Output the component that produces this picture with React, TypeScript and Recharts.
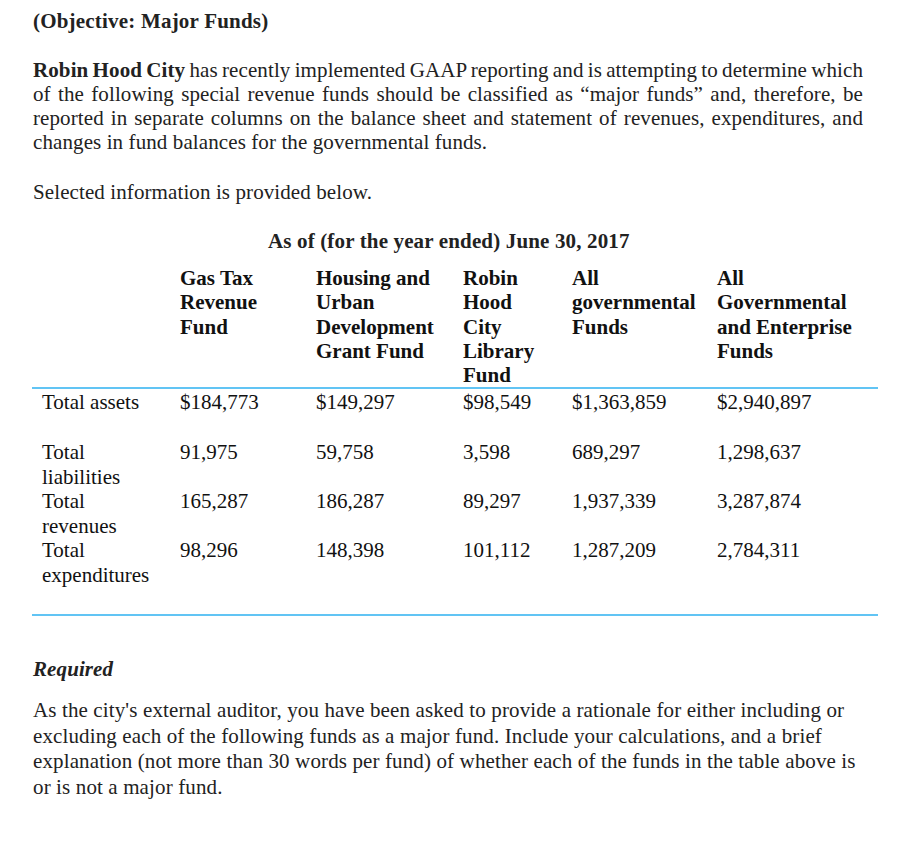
import { Surface } from 'recharts'

const FONT = '"Liberation Serif", "Times New Roman", serif'

const TITLE = '(Objective: Major Funds)'
const INTRO_LINES = [
  'has recently implemented GAAP reporting and is attempting to determine which',
  'of the following special revenue funds should be classified as \u201cmajor funds\u201d and, therefore, be',
  'reported in separate columns on the balance sheet and statement of revenues, expenditures, and',
  'changes in fund balances for the governmental funds.',
]
const SELECTED = 'Selected information is provided below.'
const TABLE_TITLE = 'As of (for the year ended) June 30, 2017'

const FUND_HEADERS = [
  ['Gas Tax', 'Revenue', 'Fund'],
  ['Housing and', 'Urban', 'Development', 'Grant Fund'],
  ['Robin', 'Hood', 'City', 'Library', 'Fund'],
  ['All', 'governmental', 'Funds'],
  ['All', 'Governmental', 'and Enterprise', 'Funds'],
]
const ROW_LABELS = [['Total assets'], ['Total', 'liabilities'], ['Total', 'revenues'], ['Total', 'expenditures']]
const TOTAL_ASSETS = [184773, 149297, 98549, 1363859, 2940897]
const TOTAL_LIABILITIES = [91975, 59758, 3598, 689297, 1298637]
const TOTAL_REVENUES = [165287, 186287, 89297, 1937339, 3287874]
const TOTAL_EXPENDITURES = [98296, 148398, 101112, 1287209, 2784311]

const REQUIRED_LINES = [
  "As the city's external auditor, you have been asked to provide a rationale for either including or",
  'excluding each of the following funds as a major fund. Include your calculations, and a brief',
  'explanation (not more than 30 words per fund) of whether each of the funds in the table above is',
  'or is not a major fund.',
]

// layout
const COL_X = [180, 316, 463, 572, 717]
const LABEL_X = 42
const ROW_Y = [409, 459, 508, 557]
const SUB_GAP = 24.5
const RULES = [388, 615]

const fmt = (v: number, dollar: boolean) => (dollar ? '$' : '') + v.toLocaleString('en-US')

function Line({ x, y, children, width, justify, style }: any) {
  return (
    <div
      style={{
        position: 'absolute',
        left: x,
        top: y - 19,
        width: width ?? 'auto',
        lineHeight: '24px',
        whiteSpace: 'nowrap',
        textAlign: justify ? 'justify' : 'left',
        textAlignLast: justify ? 'justify' : 'auto',
        ...style,
      }}
    >
      {children}
    </div>
  )
}

export default function App() {
  const rows = [TOTAL_ASSETS, TOTAL_LIABILITIES, TOTAL_REVENUES, TOTAL_EXPENDITURES]
  return (
    <div
      style={{
        position: 'absolute',
        left: 0,
        top: 0,
        width: 899,
        height: 857,
        background: '#fff',
        fontFamily: FONT,
        fontSize: 21,
        letterSpacing: '0.1px',
        color: '#222',
        overflow: 'hidden',
      }}
    >
      <Surface width={899} height={857} style={{ position: 'absolute', left: 0, top: 0 }}>
        {RULES.map((y) => (
          <line key={y} x1={32} x2={878} y1={y} y2={y} stroke="#2cb0f0" strokeWidth={1.6} />
        ))}
      </Surface>

      <Line x={33} y={28} style={{ fontWeight: 700, letterSpacing: '0.2px' }}>{TITLE}</Line>

      {INTRO_LINES.map((t, i) => (
        <Line
          key={i}
          x={33}
          y={77 + i * 24}
          width={i < 3 ? 830 : undefined}
          justify={i < 3}
          style={i === 0 ? { wordSpacing: '-1.3px' } : undefined}
        >
          {i === 0 ? (
            <>
              <b>Robin Hood City</b> {t}
            </>
          ) : (
            t
          )}
        </Line>
      ))}

      <Line x={33} y={199}>{SELECTED}</Line>

      <Line x={268} y={248} style={{ fontWeight: 700, letterSpacing: '0.15px' }}>{TABLE_TITLE}</Line>

      {FUND_HEADERS.map((lines, c) =>
        lines.map((t, j) => (
          <Line key={`h${c}-${j}`} x={COL_X[c]} y={285 + j * 24.3} style={{ fontWeight: 700, color: '#111', letterSpacing: 0 }}>
            {t}
          </Line>
        )),
      )}

      {ROW_LABELS.map((lines, r) =>
        lines.map((t, j) => (
          <Line key={`l${r}-${j}`} x={LABEL_X} y={ROW_Y[r] + j * SUB_GAP} style={{ color: '#111', letterSpacing: 0 }}>
            {t}
          </Line>
        )),
      )}

      {rows.map((vals, r) =>
        vals.map((v, c) => (
          <Line key={`v${r}-${c}`} x={COL_X[c]} y={ROW_Y[r]} style={{ color: '#111', letterSpacing: 0 }}>
            {fmt(v, r === 0)}
          </Line>
        )),
      )}

      <Line x={33} y={676} style={{ fontWeight: 700, fontStyle: 'italic' }}>Required</Line>

      {REQUIRED_LINES.map((t, i) => (
        <Line key={`r${i}`} x={33} y={717 + i * 25.6} style={{ letterSpacing: '0.125px' }}>
          {t}
        </Line>
      ))}
    </div>
  )
}
